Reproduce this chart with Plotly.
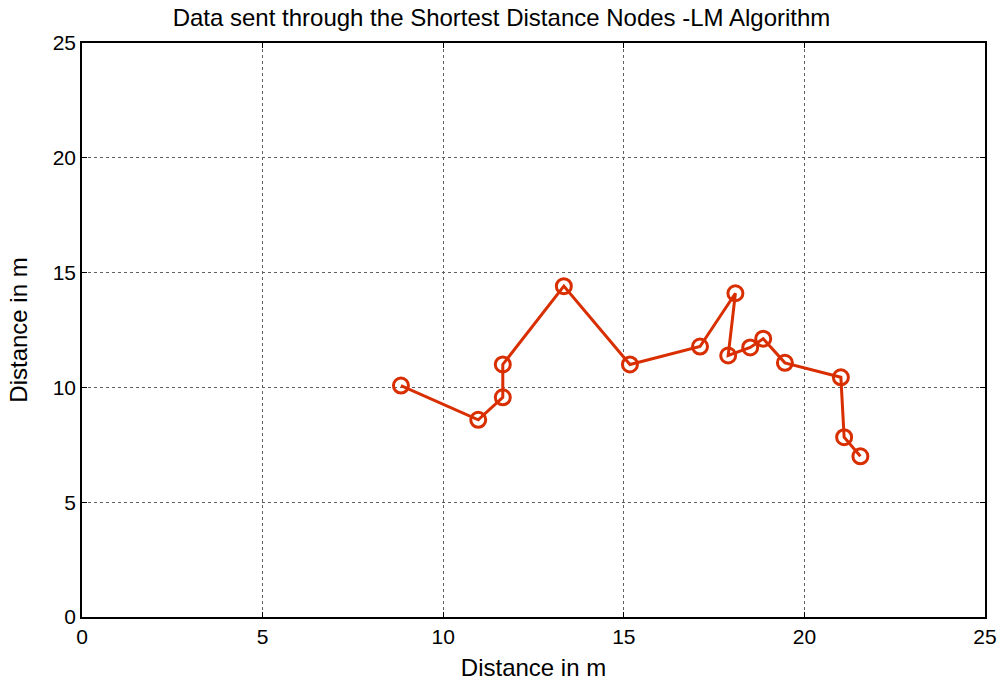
import plotly.graph_objects as go

# Node path coordinates (metres)
node_x = [8.83, 10.97, 11.65, 11.65, 13.34, 15.17, 17.11, 18.09, 17.89, 18.50, 18.86, 19.46, 21.01, 21.10, 21.55]
node_y = [10.08, 8.59, 9.57, 11.00, 14.41, 11.00, 11.78, 14.10, 11.39, 11.74, 12.12, 11.07, 10.44, 7.83, 7.00]

tick_vals = [0, 5, 10, 15, 20, 25]

path_color = "#D82E00"
font_family = "Arial, Liberation Sans, sans-serif"

fig = go.Figure()
fig.add_trace(go.Scatter(
    x=node_x, y=node_y,
    mode="lines+markers",
    line=dict(color=path_color, width=3),
    marker=dict(symbol="circle-open", size=15, color=path_color, line=dict(width=3)),
    showlegend=False,
))

axis_common = dict(
    range=[0, 25],
    tickvals=tick_vals,
    automargin=False,
    showgrid=True,
    gridcolor="#606060",
    griddash="dot",
    gridwidth=1,
    showline=True,
    linecolor="black",
    linewidth=1.5,
    mirror="ticks",
    ticks="inside",
    ticklen=5,
    tickcolor="black",
    zeroline=False,
    tickfont=dict(family=font_family, size=21, color="black"),
    title_font=dict(family=font_family, size=24, color="black"),
)

fig.update_xaxes(**axis_common, title_text="Distance in m", title_standoff=12)
fig.update_yaxes(**axis_common, title_text="Distance in m", title_standoff=18)

fig.update_layout(
    width=1003, height=685,
    margin=dict(l=82, r=18, t=43, b=68),
    paper_bgcolor="white",
    plot_bgcolor="white",
    title=dict(
        text="Data sent through the Shortest Distance Nodes -LM Algorithm",
        x=0.5, xanchor="center", y=0.975, yanchor="middle",
        font=dict(family=font_family, size=24, color="black"),
    ),
)

fig.write_html("out.html")
